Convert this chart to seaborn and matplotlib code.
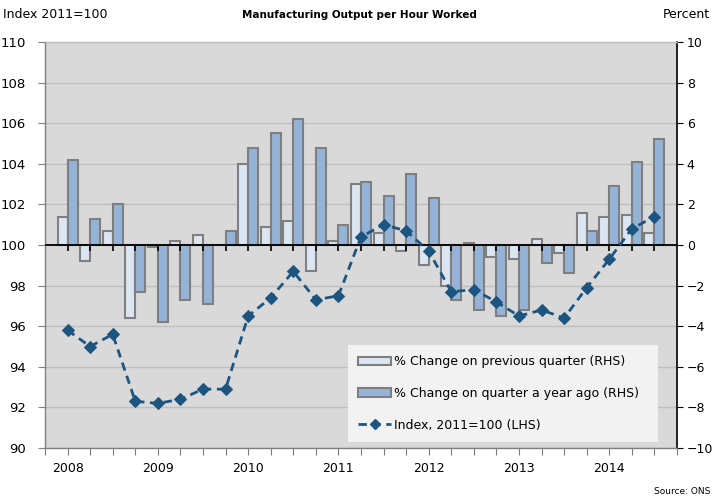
import numpy as np
import pandas as pd
import matplotlib
matplotlib.use("Agg")
import matplotlib.pyplot as plt
from matplotlib.patches import Patch
from matplotlib.lines import Line2D
import seaborn as sns

# quarterly data, 2008 Q1 - 2014 Q3
quarters = [f"{y} Q{q}" for y in range(2008, 2015) for q in range(1, 5)][:27]
qoq = [1.4, -0.8, 0.7, -3.6, -0.1, 0.2, 0.5, 0.0, 4.0, 0.9, 1.2, -1.3, 0.2, 3.0,
       0.6, -0.3, -1.0, -2.0, 0.1, -0.6, -0.7, 0.3, -0.4, 1.6, 1.4, 1.5, 0.6]
yoy = [4.2, 1.3, 2.0, -2.3, -3.8, -2.7, -2.9, 0.7, 4.8, 5.5, 6.2, 4.8, 1.0, 3.1,
       2.4, 3.5, 2.3, -2.7, -3.2, -3.5, -3.2, -0.9, -1.4, 0.7, 2.9, 4.1, 5.2]
index_vals = [95.8, 95.0, 95.6, 92.3, 92.2, 92.4, 92.9, 92.9, 96.5, 97.4, 98.7, 97.3,
              97.5, 100.4, 101.0, 100.7, 99.7, 97.7, 97.8, 97.2, 96.5, 96.8, 96.4,
              97.9, 99.3, 100.8, 101.4]
year_labels = ["2008", "2009", "2010", "2011", "2012", "2013", "2014"]
series_names = ["% Change on previous quarter (RHS)", "% Change on quarter a year ago (RHS)"]
line_name = "Index, 2011=100 (LHS)"

light = "#DCE6F2"
dark = "#95B3D7"
edge = "#7F7F7F"
line_c = "#1B5580"
grid_c = "#BFBFBF"

df = pd.DataFrame({"quarter": quarters * 2,
                   "value": qoq + yoy,
                   "series": [series_names[0]] * len(qoq) + [series_names[1]] * len(yoy)})

fig = plt.figure(figsize=(7.15, 5), dpi=100)
ax = fig.add_axes([45 / 715, 1 - 448 / 500, (677 - 45) / 715, (448 - 42) / 500])
ax.set_facecolor("#D9D9D9")
ax2 = ax.twinx()

# bars on the percent axis (right)
sns.barplot(data=df, x="quarter", y="value", hue="series", order=quarters,
            palette=[light, dark], saturation=1, width=0.88, edgecolor=edge,
            linewidth=1.5, legend=False, ax=ax, zorder=2)
ax.set_ylim(-10, 10)
ax.set_xlim(-1, len(quarters))
ax.set_yticks(np.arange(-10, 11, 2))
ax.yaxis.tick_right()
ax.yaxis.grid(True, color=grid_c, lw=1)
ax.set_axisbelow(True)
ax.axhline(0, color="black", lw=1.3, zorder=3)
ax.vlines(np.arange(len(quarters)), -0.3, 0, color="black", lw=1.2, zorder=3)
ax.set_xlabel("")
ax.set_ylabel("")

xt = np.arange(-1, len(quarters) + 1)
ax.set_xticks(xt)
ax.set_xticklabels([year_labels[t // 4] if t >= 0 and t % 4 == 0 else "" for t in xt])
ax.tick_params(axis="x", length=5, color=edge, pad=5, labelsize=9)
ax.tick_params(axis="y", right=True, left=False, labelright=True, labelleft=False,
               length=4, color="black", pad=3, labelsize=9)

for s in ["left", "top", "bottom"]:
    ax.spines[s].set_color(grid_c if s == "top" else edge)
    ax.spines[s].set_linewidth(1)
ax.spines["right"].set_color("black")
ax.spines["right"].set_linewidth(1.2)

# index line on the left axis
sns.lineplot(x=np.arange(len(index_vals)), y=index_vals, ax=ax2, color=line_c, lw=2,
             linestyle="--", marker="D", markersize=6, markeredgecolor=line_c)
ax2.lines[0].set_dashes([3, 2])
ax2.set_ylim(90, 110)
ax2.set_yticks(np.arange(90, 111, 2))
ax2.yaxis.tick_left()
ax2.tick_params(axis="y", left=True, right=False, labelleft=True, labelright=False,
                length=5, color=edge, pad=9, labelsize=9.5)
for s in ax2.spines.values():
    s.set_visible(False)

handles = [Patch(facecolor=light, edgecolor=edge, lw=1.5),
           Patch(facecolor=dark, edgecolor=edge, lw=1.5),
           Line2D([], [], color=line_c, ls=(0, (3, 2)), lw=2, marker="D", markersize=5)]
leg = ax2.legend(handles, series_names + [line_name], loc="upper left",
                 bbox_to_anchor=(342 / 715, 1 - 344 / 500, (664 - 342) / 715, 0.01),
                 bbox_transform=fig.transFigure, mode="expand", fontsize=9,
                 frameon=True, fancybox=False, facecolor="#F2F2F2", edgecolor="none",
                 framealpha=1, borderpad=0.8, labelspacing=1.5, handlelength=2.6,
                 handletextpad=0.3)

fig.text(3 / 715, 1 - 15 / 500, "Index 2011=100", fontsize=9, va="center", ha="left")
fig.text(359 / 715, 1 - 15 / 500, "Manufacturing Output per Hour Worked", fontsize=7.5,
         fontweight="bold", va="center", ha="center")
fig.text(710 / 715, 1 - 15 / 500, "Percent", fontsize=9, va="center", ha="right")
fig.text(710 / 715, 1 - 492 / 500, "Source: ONS", fontsize=6.5, va="center", ha="right")

fig.savefig("out.png", dpi=100)
